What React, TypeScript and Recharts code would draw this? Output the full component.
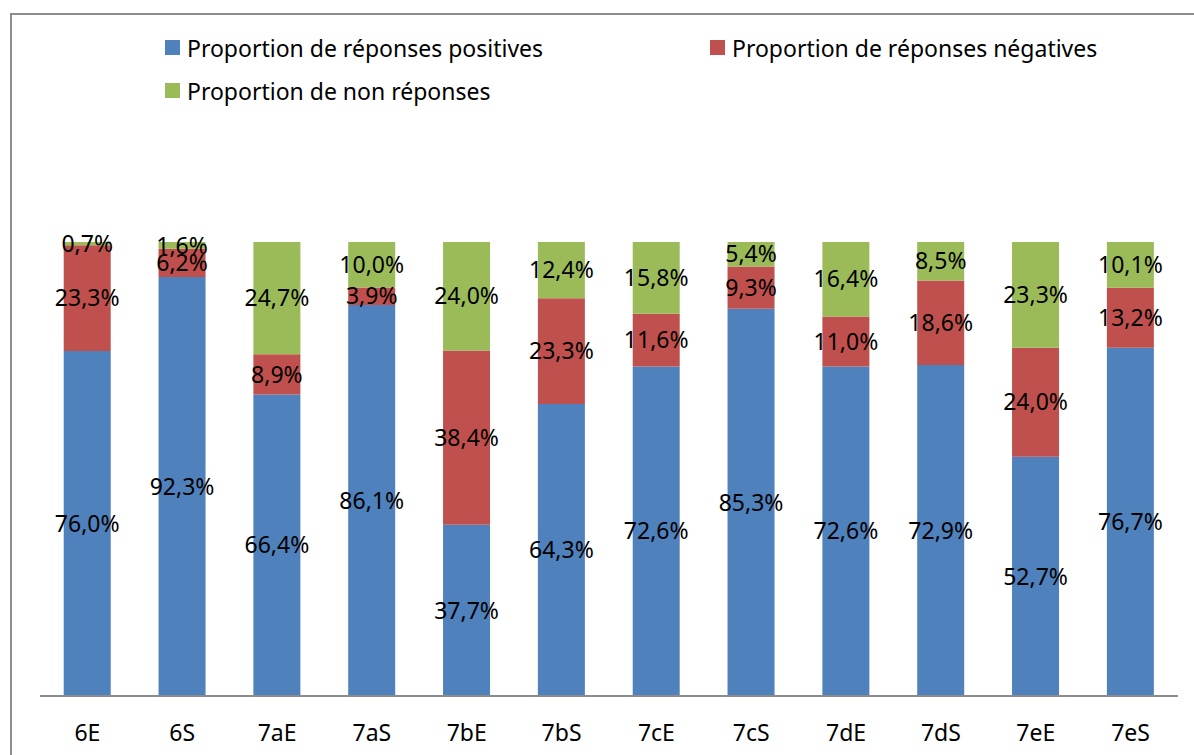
import { BarChart, Bar, XAxis, YAxis, Legend, LabelList } from "recharts";

const categories = ["6E", "6S", "7aE", "7aS", "7bE", "7bS", "7cE", "7cS", "7dE", "7dS", "7eE", "7eS"];
const positives = [76.0, 92.3, 66.4, 86.1, 37.7, 64.3, 72.6, 85.3, 72.6, 72.9, 52.7, 76.7];
const negatives = [23.3, 6.2, 8.9, 3.9, 38.4, 23.3, 11.6, 9.3, 11.0, 18.6, 24.0, 13.2];
const nonReponses = [0.7, 1.6, 24.7, 10.0, 24.0, 12.4, 15.8, 5.4, 16.4, 8.5, 23.3, 10.1];

const seriesNames = [
  "Proportion de réponses positives",
  "Proportion de réponses négatives",
  "Proportion de non réponses",
];
const seriesColors = ["#4F81BD", "#C0504D", "#9BBB59"];

const data = categories.map((name, i) => ({
  name,
  pos: positives[i],
  neg: negatives[i],
  non: nonReponses[i],
}));

const FONT = "'Noto Sans', sans-serif";

const fmt = (v: unknown) =>
  typeof v === "number" ? v.toFixed(1).replace(".", ",") + "%" : "";

function LegendBox() {
  return (
    <div
      style={{
        display: "flex",
        flexWrap: "wrap",
        paddingLeft: 165,
        width: 1090,
        boxSizing: "content-box",
        fontFamily: FONT,
        fontSize: 23,
        color: "#000",
      }}>
      {seriesNames.map((n, i) => (
        <div
          key={n}
          style={{ width: 545, height: 43, display: "flex", alignItems: "center" }}>
          <span
            style={{
              display: "inline-block",
              width: 15,
              height: 15,
              background: seriesColors[i],
              marginRight: 7,
              flex: "none",
            }}
          />
          <span style={{ whiteSpace: "nowrap" }}>{n}</span>
        </div>
      ))}
    </div>
  );
}

export default function App() {
  return (
    <div
      style={{
        position: "absolute",
        left: 0,
        top: 0,
        width: 1194,
        height: 755,
        background: "#fff",
        overflow: "hidden",
      }}>
      <div
        style={{
          position: "absolute",
          left: 10,
          top: 13,
          width: 1300,
          height: 900,
          borderLeft: "2px solid #8c8c8c",
          borderTop: "2px solid #8c8c8c",
        }}
      />
      <BarChart
        width={1194}
        height={755}
        data={data}
        margin={{ top: 242, right: 16, left: 40, bottom: 0 }}
        barCategoryGap="25%">
        <XAxis
          dataKey='name'
          axisLine={{ stroke: "#8c8c8c", strokeWidth: 2 }}
          tickLine={false}
          height={59}
          tick={{ fill: "#000", fontSize: 23, fontFamily: FONT }}
          tickMargin={23}
        />
        <YAxis hide domain={[0, 100]} allowDataOverflow />
        <Legend
          layout='horizontal'
          verticalAlign='middle'
          align='center'
          content={() => <LegendBox />}
          wrapperStyle={{ top: 26, left: 0, width: 1260 }}
        />
        <Bar dataKey='pos' stackId='a' fill={seriesColors[0]} isAnimationActive={false}>
          <LabelList
            dataKey='pos'
            position='center'
            formatter={fmt}
            style={{ fill: "#000", fontSize: 23, fontFamily: FONT }}
          />
        </Bar>
        <Bar dataKey='neg' stackId='a' fill={seriesColors[1]} isAnimationActive={false}>
          <LabelList
            dataKey='neg'
            position='center'
            formatter={fmt}
            style={{ fill: "#000", fontSize: 23, fontFamily: FONT }}
          />
        </Bar>
        <Bar dataKey='non' stackId='a' fill={seriesColors[2]} isAnimationActive={false}>
          <LabelList
            dataKey='non'
            position='center'
            formatter={fmt}
            style={{ fill: "#000", fontSize: 23, fontFamily: FONT }}
          />
        </Bar>
      </BarChart>
    </div>
  );
}
